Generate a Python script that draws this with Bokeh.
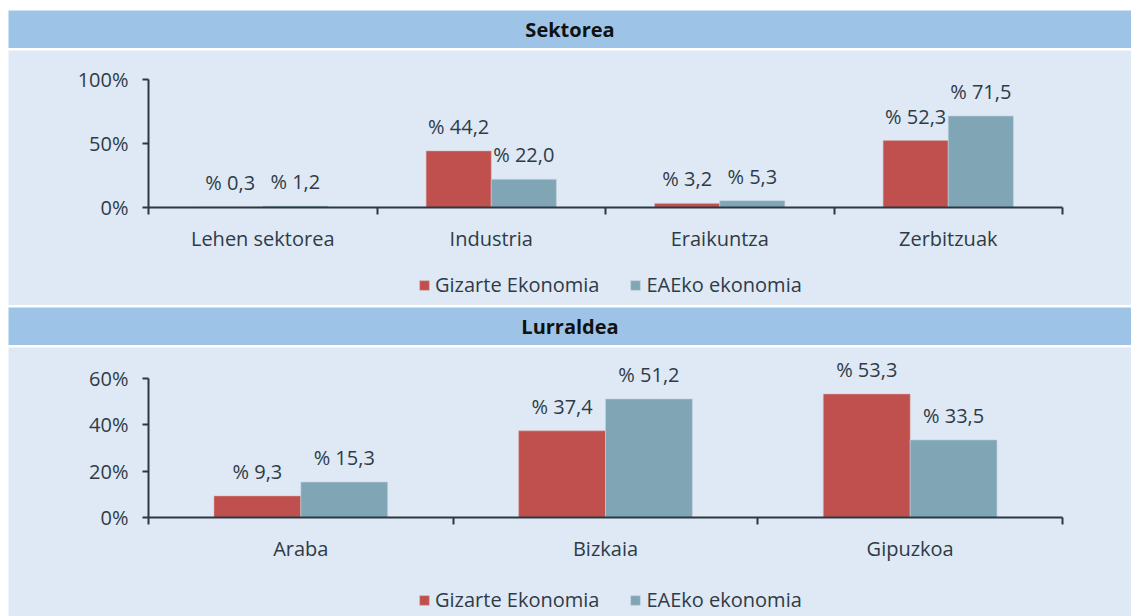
from bokeh.plotting import figure
from bokeh.models import ColumnDataSource, FixedTicker, LabelSet, Legend, LegendItem, Range1d, Label
from bokeh.layouts import column
from bokeh.embed import file_html
from bokeh.resources import INLINE
from bokeh.transform import dodge
from bokeh.core.properties import value

# ---- data ----
title_sector = "Sektorea"
sectors = ["Lehen sektorea", "Industria", "Eraikuntza", "Zerbitzuak"]
sector_social = [0.3, 44.2, 3.2, 52.3]
sector_eae = [1.2, 22.0, 5.3, 71.5]
sector_ticks = [0, 50, 100]

title_region = "Lurraldea"
regions = ["Araba", "Bizkaia", "Gipuzkoa"]
region_social = [9.3, 37.4, 53.3]
region_eae = [15.3, 51.2, 33.5]
region_ticks = [0, 20, 40, 60]

series_names = ["Gizarte Ekonomia", "EAEko ekonomia"]

# ---- style ----
W = 1123
FONT = "Open Sans"
FS = "20px"
HEAD = "#9DC3E6"
BG = "#DEE9F5"
RED = "#C0504D"
BLUE = "#80A5B4"
TXT = "#2F3B46"
AX = "#2B3843"
BAR_W = 0.285
OFF = BAR_W / 2
LEFT, RIGHT = 140, 69          # pixel position of the plotting area inside each panel


def fmt(v):
    return ("% " + f"{v:.1f}").replace(".", ",")


def header(text, top_margin):
    p = figure(width=W, height=38, x_range=Range1d(0, 1), y_range=Range1d(0, 1),
               toolbar_location=None, output_backend="svg", min_border=0,
               x_axis_location=None, y_axis_location=None,
               background_fill_color=HEAD, border_fill_color=HEAD, outline_line_color=None)
    p.grid.visible = False
    p.add_layout(Label(x=0.5, y=0.5, text=text, text_align="center", text_baseline="middle",
                       text_font=FONT, text_font_style="bold", text_font_size=FS,
                       text_color="#111111"))
    if top_margin:
        p.margin = (top_margin, 0, 0, 0)
    return p


def panel(cats, a, b, ticks, height, top_px, zero_px, leg_xy):
    n = len(cats)
    xs = (W - LEFT - RIGHT) / n                      # px per category
    ys = (zero_px - top_px) / ticks[-1]               # px per unit
    x_range = Range1d(-0.5 - LEFT / xs, n - 0.5 + RIGHT / xs)
    y_range = Range1d(-(height - zero_px) / ys, ticks[-1] + top_px / ys)
    p = figure(width=W, height=height, x_range=x_range, y_range=y_range,
               toolbar_location=None, output_backend="svg", min_border=0,
               background_fill_color=BG, border_fill_color=BG, outline_line_color=None)
    p.grid.visible = False
    src = ColumnDataSource(dict(pos=list(range(n)), a=a, b=b,
                                la=[fmt(v) for v in a], lb=[fmt(v) for v in b]))
    r1 = p.vbar(x=dodge("pos", -OFF), top="a", width=BAR_W, source=src,
                fill_color=RED, line_color="#D9B0B0", line_alpha=0.5)
    r2 = p.vbar(x=dodge("pos", OFF), top="b", width=BAR_W, source=src,
                fill_color=BLUE, line_color="#C4D4DC", line_alpha=0.6)
    for ycol, tcol, sgn in (("a", "la", -1), ("b", "lb", 1)):
        p.add_layout(LabelSet(x=dodge("pos", sgn * OFF), y=ycol, text=tcol,
                              source=src, text_align="center", text_baseline="alphabetic",
                              y_offset=17, text_font=value(FONT), text_font_size=FS,
                              text_color=TXT))

    xa = p.xaxis[0]
    xa.fixed_location = 0
    xa.bounds = (-0.5, n - 0.5)
    xa.ticker = FixedTicker(ticks=list(range(n)), minor_ticks=[i - 0.5 for i in range(n + 1)])
    xa.major_label_overrides = {i: c for i, c in enumerate(cats)}
    xa.major_tick_out = 0
    xa.major_tick_in = 0
    xa.minor_tick_out = 7
    xa.minor_tick_in = 0
    xa.minor_tick_line_color = AX
    xa.minor_tick_line_width = 2
    xa.axis_line_color = AX
    xa.axis_line_width = 2
    xa.major_label_text_font = FONT
    xa.major_label_text_font_size = FS
    xa.major_label_text_color = TXT
    xa.major_label_standoff = 10

    ya = p.yaxis[0]
    ya.fixed_location = -0.5
    ya.bounds = (0, ticks[-1])
    ya.ticker = FixedTicker(ticks=ticks, minor_ticks=[])
    ya.major_label_overrides = {t: f"{t}%" for t in ticks}
    ya.major_tick_out = 6
    ya.major_tick_in = 0
    ya.major_tick_line_color = AX
    ya.major_tick_line_width = 2
    ya.axis_line_color = AX
    ya.axis_line_width = 2
    ya.major_label_text_font = FONT
    ya.major_label_text_font_size = FS
    ya.major_label_text_color = TXT
    ya.major_label_standoff = 14

    legend = Legend(items=[LegendItem(label=series_names[0], renderers=[r1]),
                           LegendItem(label=series_names[1], renderers=[r2])],
                    orientation="horizontal", location=leg_xy,
                    glyph_width=12, glyph_height=12, label_standoff=5, spacing=30,
                    padding=0, margin=0, background_fill_alpha=0, border_line_alpha=0,
                    label_text_font=FONT, label_text_font_size=FS, label_text_color=TXT)
    p.add_layout(legend)
    return p


h1 = header(title_sector, 2)
p1 = panel(sectors, sector_social, sector_eae, sector_ticks, 255, 29, 157, (410, 7))
h2 = header(title_region, 0)
p2 = panel(regions, region_social, region_eae, region_ticks, 269, 31, 170, (410, 3))

layout = column(h1, p1, h2, p2, spacing=2)
layout.margin = (8, 0, 0, 8)

open("out.html", "w").write(file_html(layout, INLINE))
